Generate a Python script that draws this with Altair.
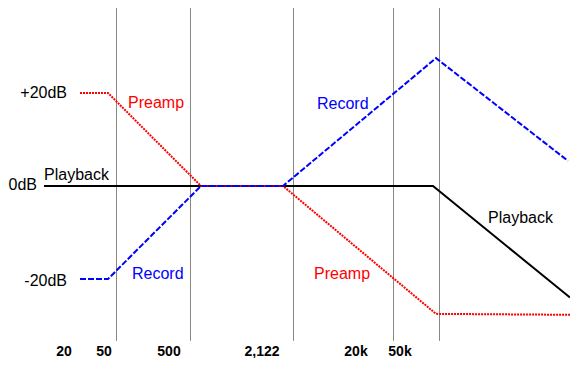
import altair as alt
import pandas as pd

# Schematic positions (x) and gain in dB (y)
playback_x = [36, 425, 562]
playback_db = [0, 0, -24.0]

preamp_x = [72, 100, 193, 275, 428, 562]
preamp_db = [20, 20, 0, 0, -27.5, -27.7]

record_x = [72, 100, 193, 275, 428, 560]
record_db = [-20, -20, 0, 0, 27.5, 5.4]

grid_x = [108.5, 182.5, 285.5, 385.5, 431.5]

tick_text = ["20", "50", "500", "2,122", "20k", "50k"]
tick_x = [56, 96, 161, 254, 348, 392]

db_text = ["+20dB", "0dB", "-20dB"]
db_x = [59, 29, 59]
db_y = [19.0, -0.9, -21.5]

ann_text = ["Playback", "Preamp", "Record", "Record", "Playback", "Preamp"]
ann_x = [36, 120, 124, 309, 480, 306]
ann_y = [1.3, 16.8, -20.0, 16.6, -7.9, -20.1]
ann_color = ["#000000", "#ff0000", "#0000ff", "#0000ff", "#000000", "#ff0000"]

W, H = 562, 350
XD = [0, W]
YD = [-36.99, 38.28]
FONT = "Liberation Sans"

xs = alt.Scale(domain=XD, nice=False, zero=False)
ys = alt.Scale(domain=YD, nice=False, zero=False)

grid_df = pd.DataFrame({"x": grid_x, "y": [38.28] * len(grid_x), "y2": [-33.3] * len(grid_x)})
grid = alt.Chart(grid_df).mark_rule(color="#888880", strokeWidth=1).encode(
    x=alt.X("x:Q", scale=xs, axis=None),
    y=alt.Y("y:Q", scale=ys, axis=None),
    y2="y2:Q",
)

def line(xv, yv, color, dash, width=2):
    df = pd.DataFrame({"x": xv, "y": yv, "o": list(range(len(xv)))})
    if dash:
        m = alt.Chart(df).mark_line(color=color, strokeWidth=width, strokeDash=dash)
    else:
        m = alt.Chart(df).mark_line(color=color, strokeWidth=width)
    return m.encode(
        x=alt.X("x:Q", scale=xs, axis=None),
        y=alt.Y("y:Q", scale=ys, axis=None),
        order="o:Q",
    )

pb = line(playback_x, playback_db, "#000000", None)
pa = line(preamp_x, preamp_db, "#ff0000", [2, 1])
rc = line(record_x, record_db, "#0000ff", [6, 2])

tick_df = pd.DataFrame({"t": tick_text, "x": tick_x, "y": [-36.6] * len(tick_x)})
ticks = alt.Chart(tick_df).mark_text(
    font=FONT, fontSize=14, fontWeight="bold", align="center", baseline="alphabetic", color="#000000"
).encode(
    x=alt.X("x:Q", scale=xs, axis=None),
    y=alt.Y("y:Q", scale=ys, axis=None),
    text="t:N",
)

db_df = pd.DataFrame({"t": db_text, "x": db_x, "y": db_y})
dbl = alt.Chart(db_df).mark_text(
    font=FONT, fontSize=16, align="right", baseline="alphabetic", color="#000000"
).encode(
    x=alt.X("x:Q", scale=xs, axis=None),
    y=alt.Y("y:Q", scale=ys, axis=None),
    text="t:N",
)

ann_df = pd.DataFrame({"t": ann_text, "x": ann_x, "y": ann_y, "c": ann_color})
ann = alt.Chart(ann_df).mark_text(
    font=FONT, fontSize=16, align="left", baseline="alphabetic"
).encode(
    x=alt.X("x:Q", scale=xs, axis=None),
    y=alt.Y("y:Q", scale=ys, axis=None),
    text="t:N",
    color=alt.Color("c:N", scale=None),
)

chart = alt.layer(grid, pb, pa, rc, ticks, dbl, ann).properties(
    width=W, height=H, padding=0, autosize=alt.AutoSizeParams(type="none"),
    background="#ffffff",
).configure_view(stroke=None)

chart.save("out.html", embed_options={"renderer": "svg", "actions": False})
